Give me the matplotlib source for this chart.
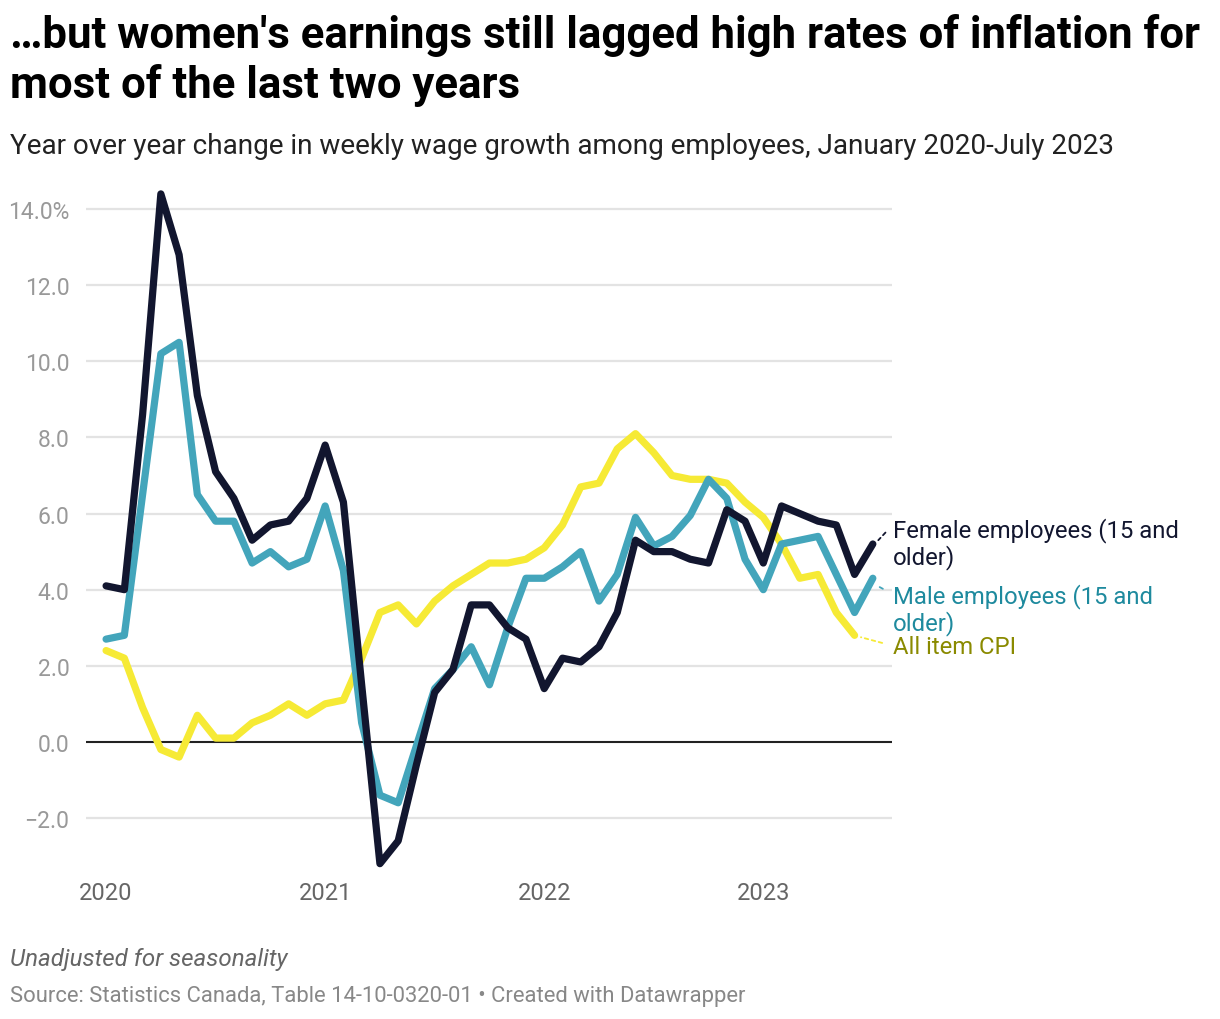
import numpy as np
import matplotlib.pyplot as plt

# monthly values, Jan 2020 - Jul 2023
female = [4.1, 4.0, 8.6, 14.4, 12.8, 9.1, 7.1, 6.4, 5.3, 5.7, 5.8, 6.4,
          7.8, 6.3, 1.5, -3.2, -2.6, -0.6, 1.3, 1.9, 3.6, 3.6, 3.0, 2.7,
          1.4, 2.2, 2.1, 2.5, 3.4, 5.3, 5.0, 5.0, 4.8, 4.7, 6.1, 5.8,
          4.7, 6.2, 6.0, 5.8, 5.7, 4.4, 5.2]
male = [2.7, 2.8, 6.5, 10.2, 10.5, 6.5, 5.8, 5.8, 4.7, 5.0, 4.6, 4.8,
        6.2, 4.5, 0.5, -1.4, -1.6, -0.1, 1.4, 1.9, 2.5, 1.5, 3.0, 4.3,
        4.3, 4.6, 5.0, 3.7, 4.4, 5.9, 5.15, 5.4, 5.95, 6.9, 6.4, 4.8,
        4.0, 5.2, 5.3, 5.4, 4.4, 3.4, 4.3]
cpi = [2.4, 2.2, 0.9, -0.2, -0.4, 0.7, 0.1, 0.1, 0.5, 0.7, 1.0, 0.7,
       1.0, 1.1, 2.2, 3.4, 3.6, 3.1, 3.7, 4.1, 4.4, 4.7, 4.7, 4.8,
       5.1, 5.7, 6.7, 6.8, 7.7, 8.1, 7.6, 7.0, 6.9, 6.9, 6.8, 6.3,
       5.9, 5.2, 4.3, 4.4, 3.4, 2.8]

years = ['2020', '2021', '2022', '2023']
yticks = [-2, 0, 2, 4, 6, 8, 10, 12, 14]
ytick_labels = ['\u22122.0', '0.0', '2.0', '4.0', '6.0', '8.0', '10.0', '12.0', '14.0%']

plt.rcParams['font.family'] = ['Roboto', 'DejaVu Sans']

c_female = '#12162f'
c_male = '#43a5bb'
c_cpi = '#f6ea35'

fig = plt.figure(figsize=(12.2, 10.2), dpi=100)
ax = fig.add_axes([86 / 1220, 1 - 870 / 1020, (892 - 86) / 1220, (870 - 185) / 1020])

x_f = np.arange(len(female))
x_c = np.arange(len(cpi))

for y in yticks:
    if y != 0:
        ax.axhline(y, color='#e3e3e3', lw=1.6, zorder=0)
ax.axhline(0, color='#222222', lw=1.5, zorder=1)

line_kw = dict(lw=5.2, solid_joinstyle='round', solid_capstyle='round', clip_on=False)
ax.plot(x_c, cpi, color=c_cpi, zorder=2, **line_kw)
ax.plot(x_f, male, color=c_male, zorder=3, **line_kw)
ax.plot(x_f, female, color=c_female, zorder=4, **line_kw)

ax.set_xlim(-1.1, 43.05)
ax.set_ylim(-3.34, 14.66)
for s in ax.spines.values():
    s.set_visible(False)
ax.set_xticks([0, 12, 24, 36])
ax.set_xticklabels(years, fontsize=17, color='#666666')
ax.set_yticks(yticks)
ax.set_yticklabels(ytick_labels, fontsize=16.5, color='#999999')
ax.tick_params(length=0)
ax.tick_params(axis='x', pad=9)
ax.tick_params(axis='y', pad=12)

# line labels with short dotted connectors
lbl = dict(fontsize=17.2, va='center', ha='left', clip_on=False, linespacing=1.15)
ax.annotate('Female employees (15 and\nolder)', xy=(x_f[-1] + 0.3, female[-1] + 0.1),
            xytext=(893, 1020 - 544), textcoords='figure pixels', color=c_female,
            arrowprops=dict(arrowstyle='-', ls=(0, (2, 2)), color=c_female, lw=1.3,
                            relpos=(0, 0.85), shrinkA=5, shrinkB=0), **lbl)
ax.annotate('Male employees (15 and\nolder)', xy=(x_f[-1] + 0.25, male[-1] - 0.2),
            xytext=(893, 1020 - 610), textcoords='figure pixels', color='#1e8a9e',
            arrowprops=dict(arrowstyle='-', ls=(0, (2, 2)), color=c_male, lw=1.3,
                            relpos=(0, 0.78), shrinkA=6, shrinkB=0), **lbl)
ax.annotate('All item CPI', xy=(x_c[-1] + 0.35, cpi[-1] - 0.05),
            xytext=(893, 1020 - 648), textcoords='figure pixels', color='#8a8a00',
            arrowprops=dict(arrowstyle='-', ls=(0, (2, 2)), color=c_cpi, lw=1.3,
                            relpos=(0, 0.55), shrinkA=6, shrinkB=0), **lbl)

fig.text(10, 1020 - 36, "\u2026but women's earnings still lagged high rates of inflation for",
         transform=None, fontsize=31.5, fontweight='bold', va='center', ha='left', color='#000000')
fig.text(10, 1020 - 86, 'most of the last two years',
         transform=None, fontsize=31.5, fontweight='bold', va='center', ha='left', color='#000000')
fig.text(10, 1020 - 147, 'Year over year change in weekly wage growth among employees, January 2020-July 2023',
         transform=None, fontsize=20.1, va='center', ha='left', color='#222222')
fig.text(10, 1020 - 960, 'Unadjusted for seasonality', transform=None, fontsize=17.4,
         style='italic', va='center', ha='left', color='#666666')
fig.text(10, 1020 - 997, 'Source: Statistics Canada, Table 14-10-0320-01 \u2022 Created with Datawrapper',
         transform=None, fontsize=15.8, va='center', ha='left', color='#888888')

fig.savefig('out.png', dpi=100, facecolor='white')
